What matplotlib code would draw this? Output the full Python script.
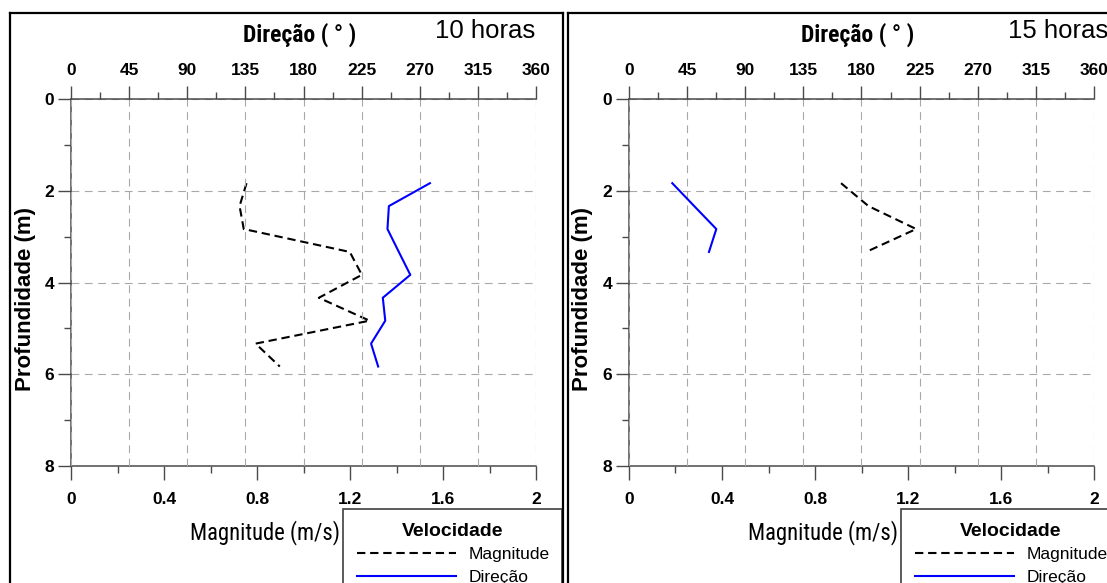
import matplotlib
matplotlib.use("Agg")
import matplotlib.pyplot as plt
from matplotlib.lines import Line2D
from matplotlib.ticker import MultipleLocator
from matplotlib import font_manager

# ---------------- data ----------------
depth_10h = [1.83, 2.33, 2.83, 3.33, 3.83, 4.33, 4.83, 5.33, 5.83]
magnitude_10h = [0.755, 0.725, 0.743, 1.199, 1.251, 1.066, 1.284, 0.794, 0.898]
direction_10h = [277.9, 246.1, 245.0, 253.8, 262.7, 241.4, 243.3, 232.3, 237.8]

depth_15h = [1.83, 2.33, 2.83, 3.33]
magnitude_15h = [0.912, 1.03, 1.235, 1.02]
direction_15h = [33.5, 50.5, 67.6, 61.9]

panel_titles = ["10 horas", "15 horas"]
dir_ticks = [0, 45, 90, 135, 180, 225, 270, 315, 360]
mag_ticks = [0, 0.4, 0.8, 1.2, 1.6, 2]
depth_ticks = [0, 2, 4, 6, 8]

# ---------------- style ----------------
plt.rcParams['font.family'] = ['Liberation Sans', 'DejaVu Sans']

# find a condensed face if one is installed, else fall back to Liberation Sans
_names = {f.name for f in font_manager.fontManager.ttflist}
NARROW = None
for cand in ['Liberation Sans Narrow', 'Arial Narrow', 'Roboto Condensed',
             'Open Sans Condensed', 'Noto Sans Condensed', 'DejaVu Sans Condensed']:
    if cand in _names:
        NARROW = [cand, 'Liberation Sans', 'DejaVu Sans']
        break
NARROW_STRETCH = 'normal'
if NARROW is None:
    cond = [f for f in font_manager.fontManager.ttflist
            if str(f.stretch) in ('condensed', 'semi-condensed', '75', '87', '62')
            and f.name in ('Noto Sans', 'Open Sans', 'Roboto', 'DejaVu Sans')]
    if cond:
        NARROW = [cond[0].name, 'Liberation Sans', 'DejaVu Sans']
        NARROW_STRETCH = 'condensed'
    else:
        NARROW = ['Liberation Sans', 'DejaVu Sans']

W, H = 1107, 583
DPI = 100
fig = plt.figure(figsize=(W / DPI, H / DPI), dpi=DPI)
fig.patch.set_facecolor('white')

SPINE = '#4a4a4a'
GRID = '#a8a8a8'


def fx(x):
    return x / W


def fy(y):
    return 1 - y / H


fit_targets = []   # (text artist, target width in px)


def panel(x0, mags, dirs, depths, title, title_x):
    ax_left, ax_right = x0, x0 + 465
    ax_top, ax_bot = 99.3, 466
    ax = fig.add_axes([fx(ax_left), fy(ax_bot), (ax_right - ax_left) / W, (ax_bot - ax_top) / H])
    ax.set_xlim(0, 2)
    ax.set_ylim(8, 0)
    axt = ax.twiny()
    axt.set_xlim(0, 360)

    for s in ['top', 'right']:
        ax.spines[s].set_visible(False)
    for s in ['left', 'right', 'bottom']:
        axt.spines[s].set_visible(False)
    for sp in [ax.spines['left'], ax.spines['bottom'], axt.spines['top']]:
        sp.set_color(SPINE)
        sp.set_linewidth(1.1)

    ax.set_xticks(mag_ticks)
    ax.set_xticklabels([f"{t:g}" for t in mag_ticks])
    ax.xaxis.set_minor_locator(MultipleLocator(0.2))
    ax.set_yticks(depth_ticks)
    ax.yaxis.set_minor_locator(MultipleLocator(1))
    axt.set_xticks(dir_ticks)
    axt.xaxis.set_minor_locator(MultipleLocator(22.5))

    ax.tick_params(axis='x', which='major', direction='out', length=10, width=1,
                   color=SPINE, pad=9, labelsize=12.5)
    ax.tick_params(axis='x', which='minor', direction='out', length=5, width=1, color=SPINE)
    ax.tick_params(axis='y', which='major', direction='out', length=9.5, width=1,
                   color=SPINE, pad=2.5, labelsize=12.5)
    ax.tick_params(axis='y', which='minor', direction='out', length=5, width=1, color=SPINE)
    axt.tick_params(axis='x', which='major', direction='out', length=9.5, width=1,
                    color=SPINE, pad=6, labelsize=12.5)
    axt.tick_params(axis='x', which='minor', direction='out', length=5, width=1, color=SPINE)
    for lab in ax.get_xticklabels() + ax.get_yticklabels() + axt.get_xticklabels():
        lab.set_fontweight('bold')

    ax.grid(True, axis='y', which='major', color=GRID, linestyle=(0, (7, 5)), linewidth=0.8)
    axt.grid(True, axis='x', which='major', color=GRID, linestyle=(0, (7, 5)), linewidth=0.8)
    ax.set_axisbelow(True)
    axt.set_axisbelow(True)

    l_mag, = ax.plot(mags, depths, color='black', linewidth=1.5,
                     linestyle=(0, (4.0, 2.3)), label='Magnitude', zorder=5)
    l_dir, = axt.plot(dirs, depths, color='#0000ff', linewidth=1.5,
                      linestyle='-', label='Direção', zorder=5)

    ax.set_xlabel('Magnitude (m/s)', family=NARROW, stretch=NARROW_STRETCH, fontsize=18.5)
    ax.xaxis.label.set_va('center')
    ax.xaxis.set_label_coords((265 - 71) / 465, (466 - 533) / 366.7)
    fit_targets.append((ax.xaxis.label, 150))

    axt.set_xlabel('Direção ( ° )', family=NARROW, stretch=NARROW_STRETCH,
                   fontsize=17, fontweight='bold')
    axt.xaxis.label.set_va('center')
    axt.xaxis.set_label_coords((300 - 71) / 465, (466 - 35) / 366.7)
    fit_targets.append((axt.xaxis.label, 115))

    ax.set_ylabel('Profundidade (m)', fontsize=16, fontweight='bold')
    ax.yaxis.label.set_va('center')
    ax.yaxis.set_label_coords((25 - 71) / 465, (466 - 299) / 366.7)

    fig.text(fx(title_x), fy(38.5), title, fontsize=18.5, ha='left', va='baseline')

    leg = ax.legend(handles=[l_mag, l_dir], labels=['Magnitude', 'Direção'],
                    title='Velocidade', loc='upper left',
                    bbox_to_anchor=(fx(x0 + 272), fy(509.3), 219.5 / W, 0.0),
                    bbox_transform=fig.transFigure, mode='expand', borderaxespad=0,
                    fancybox=False, framealpha=1, edgecolor='#404040',
                    handlelength=5.7, handletextpad=0.75, labelspacing=0.42,
                    borderpad=0.78, fontsize=12.5,
                    title_fontproperties={'weight': 'bold', 'size': 14})
    leg.get_frame().set_linewidth(1.2)
    leg.set_zorder(10)
    return ax, axt


panel(71, magnitude_10h, direction_10h, depth_10h, panel_titles[0], 435)
panel(629, magnitude_15h, direction_15h, depth_15h, panel_titles[1], 1008)

# shrink the narrow-font labels to the width they take in the reference
fig.canvas.draw()
renderer = fig.canvas.get_renderer()
for txt, target in fit_targets:
    w = txt.get_window_extent(renderer).width
    if w > 0:
        txt.set_fontsize(txt.get_fontsize() * min(1.0, target / w))

# panel frames
frame_kw = dict(color='black', linewidth=1.6, transform=fig.transFigure, zorder=20)
fig.add_artist(Line2D([fx(9.5), fx(9.5)], [fy(13), fy(H + 5)], **frame_kw))
fig.add_artist(Line2D([fx(9.5), fx(563)], [fy(13), fy(13)], **frame_kw))
fig.add_artist(Line2D([fx(563), fx(563)], [fy(13), fy(H + 5)], **frame_kw))
fig.add_artist(Line2D([fx(567.5), fx(567.5)], [fy(13), fy(H + 5)], **frame_kw))
fig.add_artist(Line2D([fx(567.5), fx(W + 5)], [fy(13), fy(13)], **frame_kw))

fig.savefig('out.png', dpi=DPI)
